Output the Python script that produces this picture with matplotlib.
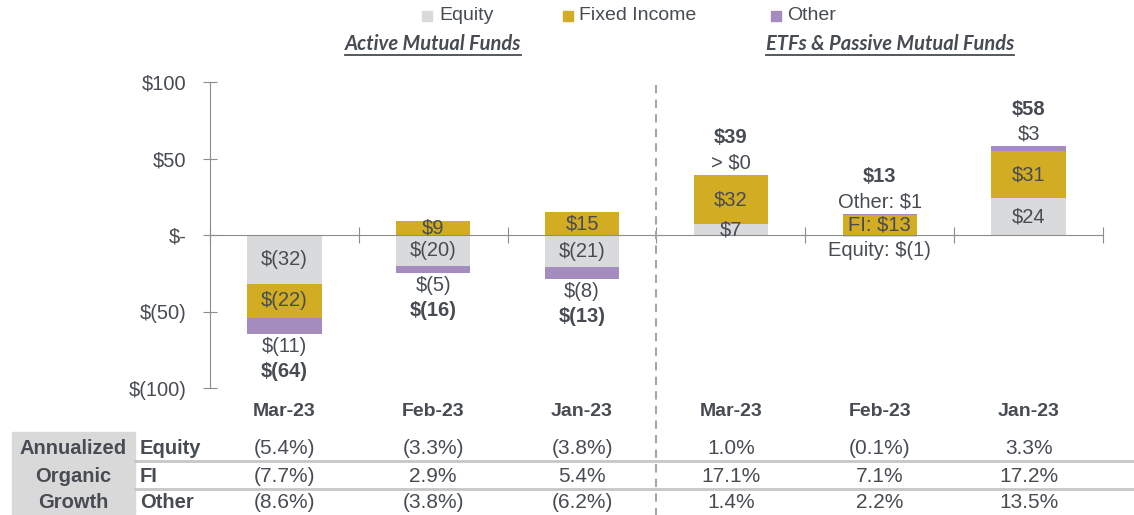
import numpy as np
import matplotlib.pyplot as plt
import matplotlib.transforms as mtransforms
from matplotlib.patches import Rectangle
from matplotlib.lines import Line2D

plt.rcParams['font.family'] = ['Liberation Sans', 'DejaVu Sans']

# ---- data ----
categories = ['Mar-23', 'Feb-23', 'Jan-23', 'Mar-23', 'Feb-23', 'Jan-23']
groups = ['Active Mutual Funds', 'ETFs & Passive Mutual Funds']
equity = [-32, -20, -21, 7, -1, 24]
fixed_income = [-22, 9, 15, 32, 13, 31]
other = [-11, -5, -8, 0.4, 1, 3]
totals = [-64, -16, -13, 39, 13, 58]
equity_labels = ['$(32)', '$(20)', '$(21)', '$7', 'Equity: $(1)', '$24']
fi_labels = ['$(22)', '$9', '$15', '$32', 'FI: $13', '$31']
other_labels = ['$(11)', '$(5)', '$(8)', '> $0', 'Other: $1', '$3']
total_labels = ['$(64)', '$(16)', '$(13)', '$39', '$13', '$58']
yticks = [-100, -50, 0, 50, 100]
ytick_labels = ['$(100)', '$(50)', '$-', '$50', '$100']

growth_rows = ['Equity', 'FI', 'Other']
growth_equity = ['(5.4%)', '(3.3%)', '(3.8%)', '1.0%', '(0.1%)', '3.3%']
growth_fi = ['(7.7%)', '2.9%', '5.4%', '17.1%', '7.1%', '17.2%']
growth_other = ['(8.6%)', '(3.8%)', '(6.2%)', '1.4%', '2.2%', '13.5%']

EQ_C = '#D9DADC'
FI_C = '#D2AC22'
OT_C = '#A48CBE'
TXT = '#474C52'
AX_C = '#8C8C8C'

W, H = 1134, 515
fig = plt.figure(figsize=(W / 100, H / 100), dpi=100)


def fx(px):
    return px / W


def fy(py):
    return 1 - py / H


ax = fig.add_axes([fx(210), fy(388), fx(1103) - fx(210), fy(82) - fy(388)])
x = np.arange(len(categories))

pos_end = np.zeros(len(x))
neg_end = np.zeros(len(x))
series = [(equity, equity_labels, EQ_C, 'Equity'),
          (fixed_income, fi_labels, FI_C, 'Fixed Income'),
          (other, other_labels, OT_C, 'Other')]
outside = []
for vals, labs, color, name in series:
    v = np.array(vals, dtype=float)
    bottom = np.where(v >= 0, pos_end, neg_end)
    ax.bar(x, v, width=0.5, bottom=bottom, color=color, edgecolor='none', label=name)
    for i in range(len(x)):
        if name != 'Other' and abs(v[i]) >= 5:
            ax.text(x[i], bottom[i] + v[i] / 2, labs[i], ha='center', va='center',
                    fontsize=14.5, color=TXT)
        else:
            outside.append((i, v[i], labs[i], name))
    pos_end += np.clip(v, 0, None)
    neg_end += np.clip(v, None, 0)

px2pt = 0.72
for i, v, lab, name in outside:
    if name == 'Other':
        end = pos_end[i] if v >= 0 else neg_end[i]
        off = 12
    else:
        end = v
        off = 14
    sgn = 1 if v >= 0 else -1
    ax.annotate(lab, (x[i], end), xytext=(0, sgn * off * px2pt), textcoords='offset points',
                ha='center', va='center', fontsize=14.5, color=TXT)

for i, t in enumerate(totals):
    sgn = 1 if t >= 0 else -1
    end = pos_end[i] if t >= 0 else neg_end[i]
    ax.annotate(total_labels[i], (x[i], end), xytext=(0, sgn * 37 * px2pt),
                textcoords='offset points', ha='center', va='center',
                fontsize=14.5, fontweight='bold', color=TXT)

ax.set_xlim(-0.5, len(x) - 0.5)
ax.set_ylim(-100, 100)
for s in ['top', 'right']:
    ax.spines[s].set_visible(False)
ax.spines['left'].set_color(AX_C)
ax.spines['bottom'].set_color(AX_C)
ax.spines['bottom'].set_position(('data', 0))
ax.set_yticks(yticks)
ax.set_yticklabels(ytick_labels)
ax.set_xticks(np.arange(len(x) + 1) - 0.5)
ax.set_xticklabels([])
ax.tick_params(axis='y', direction='inout', length=10, color=AX_C, labelsize=14.5,
               labelcolor=TXT, pad=12)
ax.tick_params(axis='x', direction='inout', length=11, color=AX_C)
ax.patch.set_alpha(0)

# category labels
xt = mtransforms.blended_transform_factory(ax.transData, fig.transFigure)
for i, c in enumerate(categories):
    fig.text(x[i], fy(411), c, transform=xt, ha='center', va='center',
             fontsize=14, fontweight='bold', color=TXT)

# divider
fig.add_artist(Line2D([2.5, 2.5], [fy(85), fy(515)], transform=xt, color='#A6A6A6',
                      lw=1.5, ls=(0, (4, 3))))

# legend
for (mx, tx, col, name) in [(422, 439, EQ_C, 'Equity'), (563, 579, FI_C, 'Fixed Income'),
                            (771, 787, OT_C, 'Other')]:
    fig.add_artist(Rectangle((fx(mx), fy(21)), fx(10), fy(11) - fy(21), color=col,
                             transform=fig.transFigure))
    fig.text(fx(tx), fy(16), name, ha='left', va='center', fontsize=14, color=TXT)

# group titles
for gx, g in [(433, groups[0]), (890, groups[1])]:
    t = fig.text(fx(gx), fy(44), g, ha='center', va='center', fontsize=14.5,
                 fontweight='bold', fontstyle='italic', family='Lato', color=TXT)
    fig.canvas.draw()
    bb = t.get_window_extent().transformed(fig.transFigure.inverted())
    fig.add_artist(Line2D([bb.x0, bb.x1], [fy(55), fy(55)], color=TXT, lw=1.3,
                          transform=fig.transFigure))

# growth table
fig.add_artist(Rectangle((fx(12), 0), fx(135) - fx(12), fy(432), color='#D9D9D9',
                         transform=fig.transFigure, zorder=0))
row_y = [448, 476, 503]
for ly in [461, 489]:
    fig.add_artist(Line2D([fx(135), 1], [fy(ly), fy(ly)], color='#C6C6C6', lw=2,
                          transform=fig.transFigure))
for ry, hdr in zip(row_y, ['Annualized', 'Organic', 'Growth']):
    fig.text(fx(73), fy(ry), hdr, ha='center', va='center', fontsize=14.5,
             fontweight='bold', color=TXT)
for ry, name, vals in zip(row_y, growth_rows, [growth_equity, growth_fi, growth_other]):
    fig.text(fx(140), fy(ry), name, ha='left', va='center', fontsize=14.5,
             fontweight='bold', color=TXT)
    for i, v in enumerate(vals):
        fig.text(x[i], fy(ry), v, transform=xt, ha='center', va='center',
                 fontsize=15, color=TXT)

fig.savefig('out.png', dpi=100)
